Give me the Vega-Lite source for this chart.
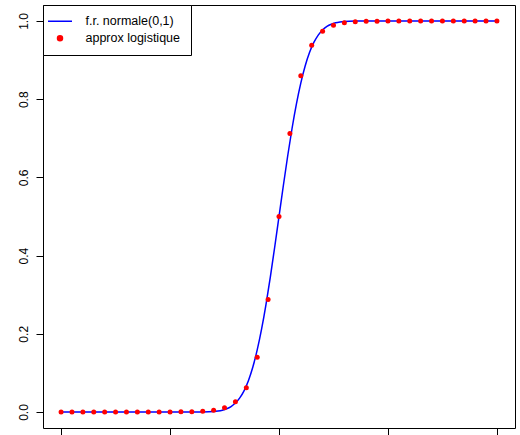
{
  "$schema": "https://vega.github.io/schema/vega-lite/v6.json",
  "width": 472,
  "height": 423,
  "autosize": {"type": "none"},
  "padding": {"left": 43, "top": 5, "right": 5, "bottom": 7},
  "background": "white",
  "config": {
    "view": {"stroke": "black", "strokeWidth": 1},
    "font": "Liberation Sans",
    "axis": {
      "grid": false,
      "domain": false,
      "tickColor": "#000",
      "tickSize": 7,
      "labelColor": "#000",
      "labelFont": "Liberation Sans",
      "labelFontSize": 12,
      "title": null
    }
  },
  "data": {
    "values": [
      {"x": -10, "y": 0, "serie": "f.r. normale(0,1)"},
      {"x": -4, "y": 0.00003, "serie": "f.r. normale(0,1)"},
      {"x": -3.5, "y": 0.00023, "serie": "f.r. normale(0,1)"},
      {"x": -3, "y": 0.00135, "serie": "f.r. normale(0,1)"},
      {"x": -2.8, "y": 0.00256, "serie": "f.r. normale(0,1)"},
      {"x": -2.6, "y": 0.00466, "serie": "f.r. normale(0,1)"},
      {"x": -2.4, "y": 0.0082, "serie": "f.r. normale(0,1)"},
      {"x": -2.2, "y": 0.0139, "serie": "f.r. normale(0,1)"},
      {"x": -2, "y": 0.02275, "serie": "f.r. normale(0,1)"},
      {"x": -1.8, "y": 0.03593, "serie": "f.r. normale(0,1)"},
      {"x": -1.6, "y": 0.0548, "serie": "f.r. normale(0,1)"},
      {"x": -1.4, "y": 0.08076, "serie": "f.r. normale(0,1)"},
      {"x": -1.2, "y": 0.11507, "serie": "f.r. normale(0,1)"},
      {"x": -1, "y": 0.15866, "serie": "f.r. normale(0,1)"},
      {"x": -0.8, "y": 0.21186, "serie": "f.r. normale(0,1)"},
      {"x": -0.6, "y": 0.27425, "serie": "f.r. normale(0,1)"},
      {"x": -0.4, "y": 0.34458, "serie": "f.r. normale(0,1)"},
      {"x": -0.2, "y": 0.42074, "serie": "f.r. normale(0,1)"},
      {"x": 0, "y": 0.5, "serie": "f.r. normale(0,1)"},
      {"x": 0.2, "y": 0.57926, "serie": "f.r. normale(0,1)"},
      {"x": 0.4, "y": 0.65542, "serie": "f.r. normale(0,1)"},
      {"x": 0.6, "y": 0.72575, "serie": "f.r. normale(0,1)"},
      {"x": 0.8, "y": 0.78814, "serie": "f.r. normale(0,1)"},
      {"x": 1, "y": 0.84134, "serie": "f.r. normale(0,1)"},
      {"x": 1.2, "y": 0.88493, "serie": "f.r. normale(0,1)"},
      {"x": 1.4, "y": 0.91924, "serie": "f.r. normale(0,1)"},
      {"x": 1.6, "y": 0.9452, "serie": "f.r. normale(0,1)"},
      {"x": 1.8, "y": 0.96407, "serie": "f.r. normale(0,1)"},
      {"x": 2, "y": 0.97725, "serie": "f.r. normale(0,1)"},
      {"x": 2.2, "y": 0.9861, "serie": "f.r. normale(0,1)"},
      {"x": 2.4, "y": 0.9918, "serie": "f.r. normale(0,1)"},
      {"x": 2.6, "y": 0.99534, "serie": "f.r. normale(0,1)"},
      {"x": 2.8, "y": 0.99744, "serie": "f.r. normale(0,1)"},
      {"x": 3, "y": 0.99865, "serie": "f.r. normale(0,1)"},
      {"x": 3.5, "y": 0.99977, "serie": "f.r. normale(0,1)"},
      {"x": 4, "y": 0.99997, "serie": "f.r. normale(0,1)"},
      {"x": 10, "y": 1, "serie": "f.r. normale(0,1)"},
      {"x": -10, "y": 0, "serie": "approx logistique"},
      {"x": -9.5, "y": 0, "serie": "approx logistique"},
      {"x": -9, "y": 0.0000001, "serie": "approx logistique"},
      {"x": -8.5, "y": 0.0000002, "serie": "approx logistique"},
      {"x": -8, "y": 0.0000005, "serie": "approx logistique"},
      {"x": -7.5, "y": 0.0000012, "serie": "approx logistique"},
      {"x": -7, "y": 0.000003, "serie": "approx logistique"},
      {"x": -6.5, "y": 0.0000075, "serie": "approx logistique"},
      {"x": -6, "y": 0.000019, "serie": "approx logistique"},
      {"x": -5.5, "y": 0.000046, "serie": "approx logistique"},
      {"x": -5, "y": 0.000115, "serie": "approx logistique"},
      {"x": -4.5, "y": 0.000285, "serie": "approx logistique"},
      {"x": -4, "y": 0.000706, "serie": "approx logistique"},
      {"x": -3.5, "y": 0.00175, "serie": "approx logistique"},
      {"x": -3, "y": 0.00431, "serie": "approx logistique"},
      {"x": -2.5, "y": 0.01062, "serie": "approx logistique"},
      {"x": -2, "y": 0.0259, "serie": "approx logistique"},
      {"x": -1.5, "y": 0.0618, "serie": "approx logistique"},
      {"x": -1, "y": 0.1402, "serie": "approx logistique"},
      {"x": -0.5, "y": 0.2876, "serie": "approx logistique"},
      {"x": 0, "y": 0.5, "serie": "approx logistique"},
      {"x": 0.5, "y": 0.7124, "serie": "approx logistique"},
      {"x": 1, "y": 0.8598, "serie": "approx logistique"},
      {"x": 1.5, "y": 0.9382, "serie": "approx logistique"},
      {"x": 2, "y": 0.9741, "serie": "approx logistique"},
      {"x": 2.5, "y": 0.98938, "serie": "approx logistique"},
      {"x": 3, "y": 0.99569, "serie": "approx logistique"},
      {"x": 3.5, "y": 0.99825, "serie": "approx logistique"},
      {"x": 4, "y": 0.999294, "serie": "approx logistique"},
      {"x": 4.5, "y": 0.999715, "serie": "approx logistique"},
      {"x": 5, "y": 0.999885, "serie": "approx logistique"},
      {"x": 5.5, "y": 0.999954, "serie": "approx logistique"},
      {"x": 6, "y": 0.999981, "serie": "approx logistique"},
      {"x": 6.5, "y": 0.9999925, "serie": "approx logistique"},
      {"x": 7, "y": 0.999997, "serie": "approx logistique"},
      {"x": 7.5, "y": 0.9999988, "serie": "approx logistique"},
      {"x": 8, "y": 0.9999995, "serie": "approx logistique"},
      {"x": 8.5, "y": 0.9999998, "serie": "approx logistique"},
      {"x": 9, "y": 0.9999999, "serie": "approx logistique"},
      {"x": 9.5, "y": 1, "serie": "approx logistique"},
      {"x": 10, "y": 1, "serie": "approx logistique"}
    ]
  },
  "encoding": {
    "x": {
      "field": "x",
      "type": "quantitative",
      "scale": {"domain": [-10.83, 10.83], "nice": false, "zero": false},
      "axis": {"values": [-10, -5, 0, 5, 10], "labels": false}
    },
    "y": {
      "field": "y",
      "type": "quantitative",
      "scale": {"domain": [-0.041, 1.041], "nice": false, "zero": false},
      "axis": {
        "values": [0, 0.2, 0.4, 0.6, 0.8, 1],
        "format": ".1f",
        "labelAngle": -90,
        "labelAlign": "center",
        "labelBaseline": "bottom",
        "labelPadding": 6
      }
    },
    "color": {
      "field": "serie",
      "type": "nominal",
      "scale": {
        "domain": ["f.r. normale(0,1)", "approx logistique"],
        "range": ["#0000FF", "#FF0000"]
      },
      "legend": {
        "orient": "none",
        "legendX": 0,
        "legendY": 0,
        "title": null,
        "strokeColor": "black",
        "fillColor": "white",
        "padding": 10,
        "rowPadding": 4,
        "labelFont": "Liberation Sans",
        "labelFontSize": 12.5,
        "labelColor": "#000",
        "labelOffset": 20,
        "symbolSize": 100,
        "encode": {
          "symbols": {
            "update": {
              "x": {"value": 7},
              "shape": {"signal": "datum.value == 'approx logistique' ? 'circle' : 'M-2.4,0H2.4'"},
              "size": {"signal": "datum.value == 'approx logistique' ? 25 : 100"},
              "fill": {"signal": "datum.value == 'approx logistique' ? '#FF0000' : 'transparent'"},
              "stroke": {"signal": "datum.value == 'approx logistique' ? 'transparent' : '#0000FF'"},
              "strokeWidth": {"value": 1.5},
              "opacity": {"value": 1}
            }
          }
        }
      }
    }
  },
  "layer": [
    {
      "transform": [{"filter": "datum.serie == 'f.r. normale(0,1)'"}],
      "mark": {"type": "line", "strokeWidth": 1.5, "interpolate": "monotone"}
    },
    {
      "transform": [{"filter": "datum.serie == 'approx logistique'"}],
      "mark": {"type": "point", "filled": true, "shape": "circle", "size": 25, "opacity": 1}
    }
  ]
}
